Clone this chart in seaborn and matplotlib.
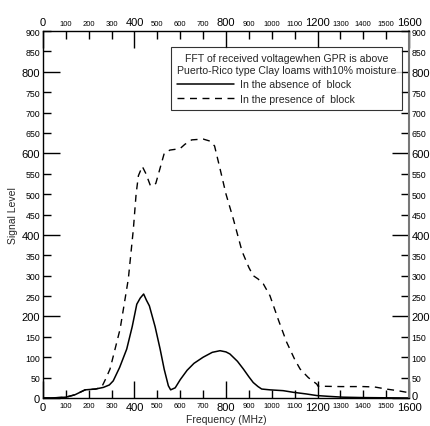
import matplotlib
matplotlib.use("Agg")
import matplotlib.pyplot as plt
import matplotlib.transforms as mtransforms
import seaborn as sns
import pandas as pd

freq_absence = [0, 50, 100, 140, 184, 230, 264, 290, 307, 335, 366, 390, 410, 425, 440, 452, 465, 490, 512, 530, 548, 558, 578, 600, 630, 660, 700, 740, 774, 800, 817, 850, 876, 900, 919, 940, 956, 992, 1050, 1094, 1150, 1197, 1250, 1311, 1400, 1500, 1600]
sig_absence = [0, 0.5, 2, 8, 20, 22, 26, 32, 42, 75, 120, 175, 230, 245, 255, 240, 226, 175, 120, 70, 30, 20, 25, 45, 68, 85, 100, 112, 116, 113, 108, 90, 71, 52, 38, 28, 22, 20, 18, 14, 10, 6, 4, 2, 1, 0.5, 0]

freq_presence = [0, 50, 100, 140, 184, 230, 256, 275, 293, 315, 337, 355, 373, 395, 407, 417, 434, 450, 470, 493, 510, 530, 555, 580, 600, 620, 650, 700, 730, 750, 774, 800, 832, 870, 900, 919, 940, 963, 992, 1030, 1065, 1100, 1124, 1160, 1197, 1202, 1300, 1400, 1450, 1500, 1550, 1600]
sig_presence = [0, 0.5, 2, 8, 20, 22, 26, 48, 71, 120, 169, 230, 292, 414, 500, 545, 568, 550, 520, 526, 560, 600, 608, 610, 612, 622, 633, 635, 630, 618, 562, 500, 439, 360, 320, 300, 292, 280, 251, 190, 137, 95, 71, 50, 34, 29, 28, 28, 27, 22, 18, 13]

x_major = [0, 400, 800, 1200, 1600]
x_minor = [100, 200, 300, 500, 600, 700, 900, 1000, 1100, 1300, 1400, 1500]
y_major = [0, 200, 400, 600, 800]
y_minor = [50, 100, 150, 250, 300, 350, 450, 500, 550, 650, 700, 750, 850, 900]

legend_title = "FFT of received voltagewhen GPR is above\nPuerto-Rico type Clay loams with10% moisture"
label_absence = "In the absence of  block"
label_presence = "In the presence of  block"

sns.set_style("ticks")
plt.rcParams['font.family'] = ['Liberation Sans', 'DejaVu Sans']

df_a = pd.DataFrame({"f": freq_absence, "s": sig_absence})
df_p = pd.DataFrame({"f": freq_presence, "s": sig_presence})

fig = plt.figure(figsize=(4.31, 4.27), dpi=100)
ax = fig.add_axes([43/431, 1 - 399/427, (409-43)/431, (399-32)/427])

sns.lineplot(data=df_a, x="f", y="s", ax=ax, color="black", linewidth=1.1,
             label=label_absence, sort=False)
sns.lineplot(data=df_p, x="f", y="s", ax=ax, color="black", linewidth=1.0,
             linestyle=(0, (5, 4)), label=label_presence, sort=False)

ax.set_xlim(0, 1600)
ax.set_ylim(0, 900)

ax.set_xticks(x_major)
ax.set_xticklabels([str(v) for v in x_major], fontsize=8)
ax.set_xticks(x_minor, minor=True)
ax.set_xticklabels([str(v) for v in x_minor], minor=True, fontsize=5.5)
ax.set_yticks(y_major)
ax.set_yticklabels([str(v) for v in y_major], fontsize=8)
ax.set_yticks(y_minor, minor=True)
ax.set_yticklabels([str(v) for v in y_minor], minor=True, fontsize=6.3)

for which, length in (("major", 12), ("minor", 6)):
    ax.tick_params(axis="both", which=which, direction="in", length=length, width=1.0,
                   top=True, right=True, labeltop=True, labelright=True,
                   pad=3, colors="black")
ax.tick_params(axis="y", which="both", pad=2)

# nudge the right-hand "0" label up slightly so it does not touch "1600"
fig.canvas.draw()
for t in ax.yaxis.get_majorticklabels():
    pass
right_labels = [tk.label2 for tk in ax.yaxis.get_major_ticks()]
if right_labels:
    right_labels[0].set_transform(right_labels[0].get_transform() +
                                  mtransforms.ScaledTranslation(0, 2.5/72, fig.dpi_scale_trans))

for sp in ax.spines.values():
    sp.set_color("black")
    sp.set_linewidth(1.0)
ax.spines["right"].set_color("#777777")
ax.spines["right"].set_linewidth(1.5)

ax.set_xlabel("Frequency (MHz)", fontsize=7.5, labelpad=1)
ax.set_ylabel("Signal Level", fontsize=7.5, labelpad=3)

leg = ax.legend(title=legend_title, loc="upper right", bbox_to_anchor=(0.981, 0.956),
                fontsize=7.6, title_fontsize=7.6, frameon=True, fancybox=False,
                handlelength=5.4, borderpad=0.55, labelspacing=0.45, handletextpad=0.6,
                borderaxespad=0.0)
leg.get_frame().set_edgecolor("black")
leg.get_frame().set_linewidth(0.8)
leg.get_title().set_multialignment("center")
leg._legend_box.align = "left"

fig.savefig("out.png", dpi=100)
